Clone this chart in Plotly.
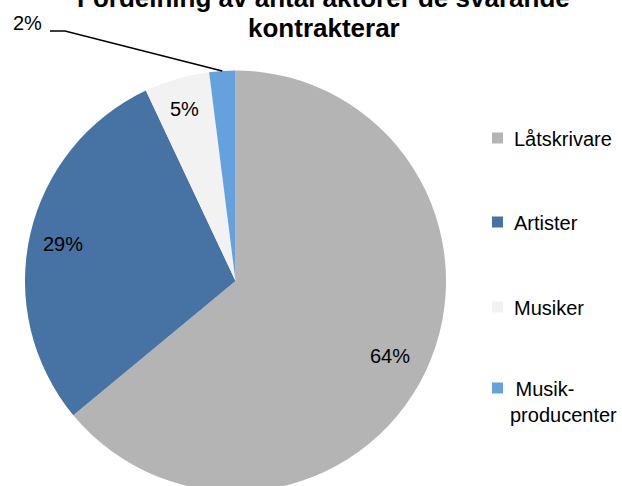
import math
import plotly.graph_objects as go

# Chart data
categories = ["Låtskrivare", "Artister", "Musiker", "Musik-producenter"]
legend_labels = ["Låtskrivare", "Artister", "Musiker", "\u00a0Musik-<br>producenter"]
shares = [64, 29, 5, 2]
colors = ["#b4b4b4", "#4673a3", "#f2f2f2", "#65a1dc"]
title_lines = ["Fördelning av antal aktörer de svarande", "kontrakterar"]

W, H = 622, 500
FONT = "Liberation Sans, Arial, sans-serif"

# Pie placement in pixels
PIE_CX, PIE_CY, PIE_R = 235.5, 281.0, 210.5


def px_x(x):
    return x / W


def px_y(y):
    return 1 - y / H


fig = go.Figure(
    go.Pie(
        labels=categories,
        values=shares,
        sort=False,
        direction="clockwise",
        rotation=0,
        marker=dict(colors=colors, line=dict(width=0)),
        textinfo="none",
        hoverinfo="label+percent",
        showlegend=False,
        domain=dict(
            x=[px_x(PIE_CX - PIE_R), px_x(PIE_CX + PIE_R)],
            y=[px_y(PIE_CY + PIE_R), px_y(PIE_CY - PIE_R)],
        ),
    )
)

annotations = []
shapes = []

# Data labels at each slice's mid-angle
label_radius = [0.81, 0.84, 0.86, None]
total = sum(shares)
start = 0.0
mid_angles = []
for v in shares:
    span = 360.0 * v / total
    mid_angles.append(start + span / 2)
    start += span

for v, ang, rf in zip(shares, mid_angles, label_radius):
    if rf is None:
        continue
    a = math.radians(ang)
    x = PIE_CX + rf * PIE_R * math.sin(a)
    y = PIE_CY - rf * PIE_R * math.cos(a)
    annotations.append(dict(
        x=px_x(x), y=px_y(y + 2), xref="paper", yref="paper",
        text=f"{v}%", showarrow=False, xanchor="center", yanchor="middle",
        font=dict(family=FONT, size=20, color="#000000"),
    ))

# Small slice: label outside with a leader line to the slice edge
a = math.radians(mid_angles[3])
edge_x = PIE_CX + PIE_R * math.sin(a)
edge_y = PIE_CY - PIE_R * math.cos(a)
annotations.append(dict(
    x=px_x(27), y=px_y(23), xref="paper", yref="paper",
    text=f"{shares[3]}%", showarrow=False, xanchor="center", yanchor="middle",
    font=dict(family=FONT, size=20, color="#000000"),
))
shapes.append(dict(
    type="path", xref="paper", yref="paper",
    path=f"M {px_x(50)} {px_y(31)} L {px_x(65)} {px_y(31)} L {px_x(edge_x)} {px_y(edge_y)}",
    line=dict(color="#000000", width=1.5),
))

# Title (two centred bold lines)
for i, line in enumerate(title_lines):
    annotations.append(dict(
        x=px_x(323.5), y=px_y(-2 + 30 * i), xref="paper", yref="paper",
        text=f"<b>{line}</b>", showarrow=False, xanchor="center", yanchor="middle",
        font=dict(family=FONT, size=26, color="#000000"),
    ))

# Legend: square markers with labels
legend_rows = [138, 222, 307, 388]
for lab, col, yy in zip(legend_labels, colors, legend_rows):
    shapes.append(dict(
        type="rect", xref="paper", yref="paper",
        x0=px_x(492), x1=px_x(503), y0=px_y(yy + 5.5), y1=px_y(yy - 5.5),
        fillcolor=col, line=dict(width=0),
    ))
    multi = "<br>" in lab
    annotations.append(dict(
        x=px_x(508 if multi else 512), y=px_y(yy - 12), xref="paper", yref="paper",
        text=lab, showarrow=False, xanchor="left", yanchor="top", align="left",
        font=dict(family=FONT, size=20, color="#000000"),
    ))

fig.update_layout(
    width=W, height=H,
    margin=dict(l=0, r=0, t=0, b=0),
    paper_bgcolor="#ffffff",
    plot_bgcolor="#ffffff",
    annotations=annotations,
    shapes=shapes,
)

fig.write_html(
    "out.html",
    post_script="document.body.style.margin='0';document.body.style.overflow='hidden';"
                "document.documentElement.style.overflow='hidden';",
)
